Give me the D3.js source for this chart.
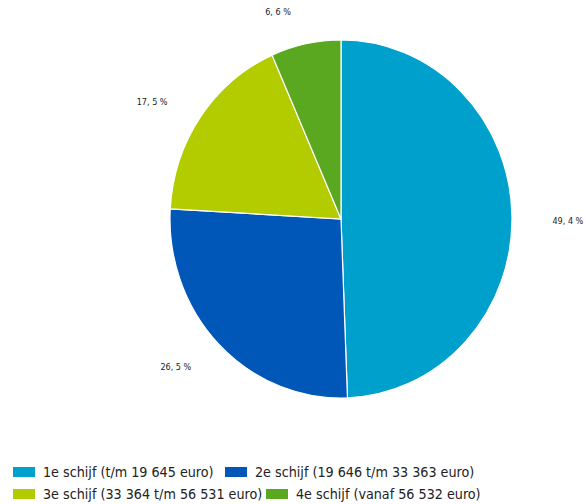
<!DOCTYPE html>
<html><head><meta charset="utf-8">
<script src="https://cdn.jsdelivr.net/npm/d3@7"></script>
<style>body{margin:0;background:#fff}svg{display:block}</style>
</head><body>
<svg id="c" width="586" height="504"></svg>
<script>
const categories = ["1e schijf (t/m 19 645 euro)","2e schijf (19 646 t/m 33 363 euro)","3e schijf (33 364 t/m 56 531 euro)","4e schijf (vanaf 56 532 euro)"];
const values = [49.4, 26.5, 17.5, 6.6];
const labels = ["49, 4 %","26, 5 %","17, 5 %","6, 6 %"];
const colors = ["#00a0cc","#0057b8","#b3cc00","#5aa820"];

const svg = d3.select("#c");
const cx = 341, cy = 219, rx = 171, ry = 179;
const pie = d3.pie().sort(null).value(d => d)(values);
const arc = d3.arc().innerRadius(0).outerRadius(rx);
const g = svg.append("g").attr("transform", `translate(${cx},${cy}) scale(1,${ry/rx})`);
g.selectAll("path").data(pie).join("path")
  .attr("d", arc).attr("fill", (d,i) => colors[i])
  .attr("stroke", "#fff").attr("stroke-width", 1.2).attr("vector-effect","non-scaling-stroke");

const lab = svg.append("g").attr("font-family","DejaVu Sans Condensed, DejaVu Sans").attr("font-size",9).attr("fill","#222");
const fxs = [1.327, 1.353, 1.344, 1.79], fys = [-0.6, 1.187, 1.138, 1.18];
pie.forEach((d,i) => {
  const a = (d.startAngle + d.endAngle)/2;
  const x = cx + Math.sin(a)*rx*fxs[i], y = cy - Math.cos(a)*ry*fys[i];
  lab.append("text").attr("x", x).attr("y", y).attr("text-anchor","middle").attr("dominant-baseline","middle").text(labels[i]);
});

const leg = svg.append("g").attr("font-family","DejaVu Sans Condensed, DejaVu Sans").attr("font-size",14.2).attr("fill","#222");
const pos = [[13,472],[225,472],[13,494],[266,494]];
categories.forEach((c,i) => {
  const [x,y] = pos[i];
  leg.append("text").attr("x",x+30).attr("y",y+1).attr("dominant-baseline","middle").text(c);
});
categories.forEach((c,i) => {
  const [x,y] = pos[i];
  leg.append("rect").attr("x",x).attr("y",y-5).attr("width",22).attr("height",10).attr("fill",colors[i]);
});
</script>
</body></html>
